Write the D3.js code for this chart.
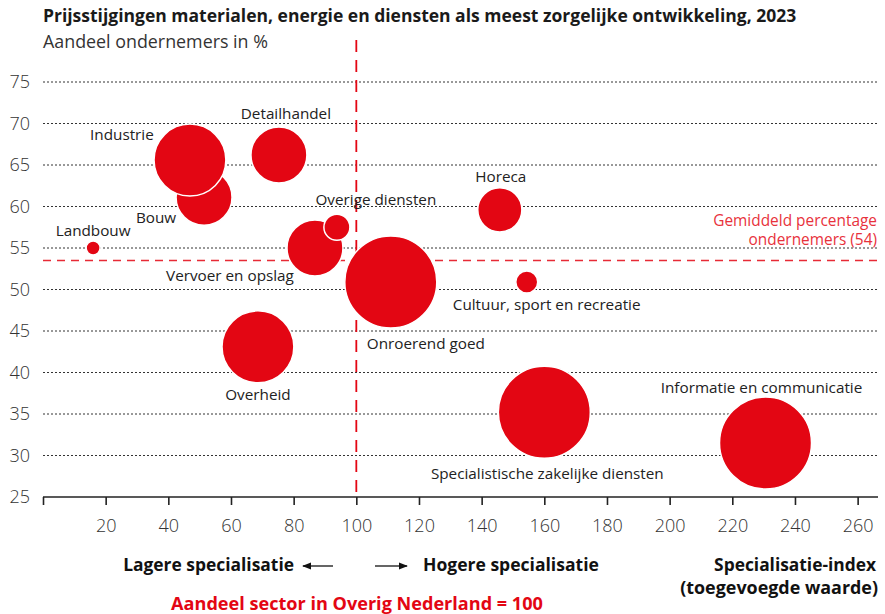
<!DOCTYPE html>
<html><head><meta charset="utf-8">
<script src="https://cdn.jsdelivr.net/npm/d3@7"></script>
<style>
body{margin:0;background:#fff;}
text{font-family:"Open Sans",Lato,sans-serif;}
</style></head>
<body><svg id="c" width="885" height="614"></svg>
<script>
const sectors = ["Landbouw","Industrie","Bouw","Detailhandel","Vervoer en opslag","Overige diensten","Onroerend goed","Overheid","Horeca","Cultuur, sport en recreatie","Specialistische zakelijke diensten","Informatie en communicatie"];
const specIndex = [16, 46.9, 51.4, 75.3, 86.8, 93.8, 111, 68.6, 145.8, 154.4, 160, 230.6];
const sharePct  = [55, 65.6, 61.1, 66.2, 55, 57.5, 50.9, 43.1, 59.6, 50.9, 35.2, 31.5];
const sizeVal   = [2.3, 61, 37, 37, 37, 8, 100, 61, 23, 5.7, 100, 100];
const drawOrder = [0,2,1,3,4,5,6,7,8,9,10,11];
const yTicks = [25,30,35,40,45,50,55,60,65,70,75];
const xTicks = [0,20,40,60,80,100,120,140,160,180,200,220,240,260];
const average = 53.5;
const averageLabel = ["Gemiddeld percentage","ondernemers (54)"];
const labelPos = [
 [0,-17,"middle"],[-68,-25,"middle"],[-48,20,"middle"],[7,-41,"middle"],
 [-85,28,"middle"],[39,-28,"middle"],[-24,62,"start"],[0,48,"middle"],
 [1,-33,"middle"],[-74,23,"start"],[3,61,"middle"],[-4,-55,"middle"]
];

const svg = d3.select("#c");
const red = "#e30613";
const x = d3.scaleLinear().domain([0,266.5]).range([43,878]);
const y = d3.scaleLinear().domain([25,75]).range([497,82]);
const r = d3.scaleSqrt().domain([0,100]).range([0,46]);

function fit(sel, w){
  const n = sel.node(); const fs = parseFloat(sel.attr("font-size"));
  const len = n.getComputedTextLength();
  sel.attr("font-size", fs*w/len);
  return sel;
}

// title
fit(svg.append("text").attr("x",43).attr("y",22).attr("font-size",15).attr("font-weight",700).attr("fill","#1a1a1a")
  .text("Prijsstijgingen materialen, energie en diensten als meest zorgelijke ontwikkeling, 2023"),754);
fit(svg.append("text").attr("x",43).attr("y",48).attr("font-size",16).attr("fill","#333")
  .text("Aandeel ondernemers in %"),225);

// grid
const grid = svg.append("g");
yTicks.filter(d=>d>25).forEach(t=>{
  grid.append("line").attr("x1",43).attr("x2",878).attr("y1",y(t)).attr("y2",y(t))
    .attr("stroke","#333").attr("stroke-width",1).attr("stroke-dasharray","2,2");
});
yTicks.forEach(t=>{
  svg.append("text").attr("x",30).attr("y",y(t)).attr("dy","0.36em").attr("text-anchor","end")
    .attr("font-size",18).attr("fill","#333").attr("font-family","Lato").attr("font-weight",300).text(t);
});
const xa = svg.append("g").attr("transform",`translate(0,${y(25)})`)
  .call(d3.axisBottom(x).tickValues(xTicks).tickSize(8).tickFormat(d=>d===0?"":d).tickPadding(14));
xa.select(".domain").attr("stroke","#222").attr("stroke-width",1.6).attr("d",`M43,0H878`);
xa.selectAll(".tick line").attr("stroke","#222").attr("stroke-width",1.6);
xa.selectAll(".tick text").attr("font-size",18).attr("fill","#333").attr("font-weight",300).attr("font-family","Lato");

// reference lines
svg.append("line").attr("x1",43).attr("x2",878).attr("y1",y(average)).attr("y2",y(average))
  .attr("stroke",red).attr("stroke-width",1.5).attr("stroke-dasharray","8,6").attr("opacity",0.85);
svg.append("line").attr("x1",x(100)).attr("x2",x(100)).attr("y1",40).attr("y2",y(25))
  .attr("stroke",red).attr("stroke-width",1.8).attr("stroke-dasharray","12,8");
const avgT = svg.append("g").selectAll("text").data(averageLabel).join("text")
  .attr("x",877).attr("y",(d,i)=>226+i*19).attr("text-anchor","end").attr("font-size",14)
  .attr("fill","#e8323c").text(d=>d);
const avgFs = 14*164/avgT.node().getComputedTextLength();
avgT.attr("font-size",avgFs);

// bubbles
svg.append("g").selectAll("circle").data(drawOrder).join("circle")
  .attr("cx",i=>x(specIndex[i])).attr("cy",i=>y(sharePct[i])).attr("r",i=>r(sizeVal[i]))
  .attr("fill",red).attr("stroke","#fff").attr("stroke-width",1.5);

// labels
const lab = svg.append("g").selectAll("text").data(sectors).join("text")
  .attr("x",(d,i)=>x(specIndex[i])+labelPos[i][0]).attr("y",(d,i)=>y(sharePct[i])+labelPos[i][1])
  .attr("dy","0.35em").attr("text-anchor",(d,i)=>labelPos[i][2])
  .attr("font-size",14).attr("fill","#222").text(d=>d);
const refLab = lab.filter((d,i)=>i===10).node();
const labFs = 14*233/refLab.getComputedTextLength();
lab.attr("font-size",labFs);

// bottom annotations
const by = 571;
fit(svg.append("text").attr("x",294).attr("y",by).attr("text-anchor","end").attr("font-size",15).attr("font-weight",700).attr("fill","#111").text("Lagere specialisatie"),171);
fit(svg.append("text").attr("x",423).attr("y",by).attr("font-size",15).attr("font-weight",700).attr("fill","#111").text("Hogere specialisatie"),176);
const defs = svg.append("defs");
defs.append("marker").attr("id","ah").attr("viewBox","0 0 10 10").attr("refX",9).attr("refY",5)
  .attr("markerWidth",7).attr("markerHeight",7).attr("orient","auto-start-reverse")
  .append("path").attr("d","M0,1L10,5L0,9Z").attr("fill","#111");
svg.append("line").attr("x1",333).attr("x2",303).attr("y1",by-5).attr("y2",by-5).attr("stroke","#111").attr("stroke-width",1.3).attr("marker-end","url(#ah)");
svg.append("line").attr("x1",375).attr("x2",407).attr("y1",by-5).attr("y2",by-5).attr("stroke","#111").attr("stroke-width",1.3).attr("marker-end","url(#ah)");
fit(svg.append("text").attr("x",876).attr("y",by).attr("text-anchor","end").attr("font-size",15).attr("font-weight",700).attr("fill","#111").text("Specialisatie-index"),162);
fit(svg.append("text").attr("x",878).attr("y",by+23).attr("text-anchor","end").attr("font-size",15).attr("font-weight",700).attr("fill","#111").text("(toegevoegde waarde)"),198);
fit(svg.append("text").attr("x",357).attr("y",610).attr("text-anchor","middle").attr("font-size",15).attr("font-weight",700).attr("fill",red).text("Aandeel sector in Overig Nederland = 100"),372);
</script></body></html>
